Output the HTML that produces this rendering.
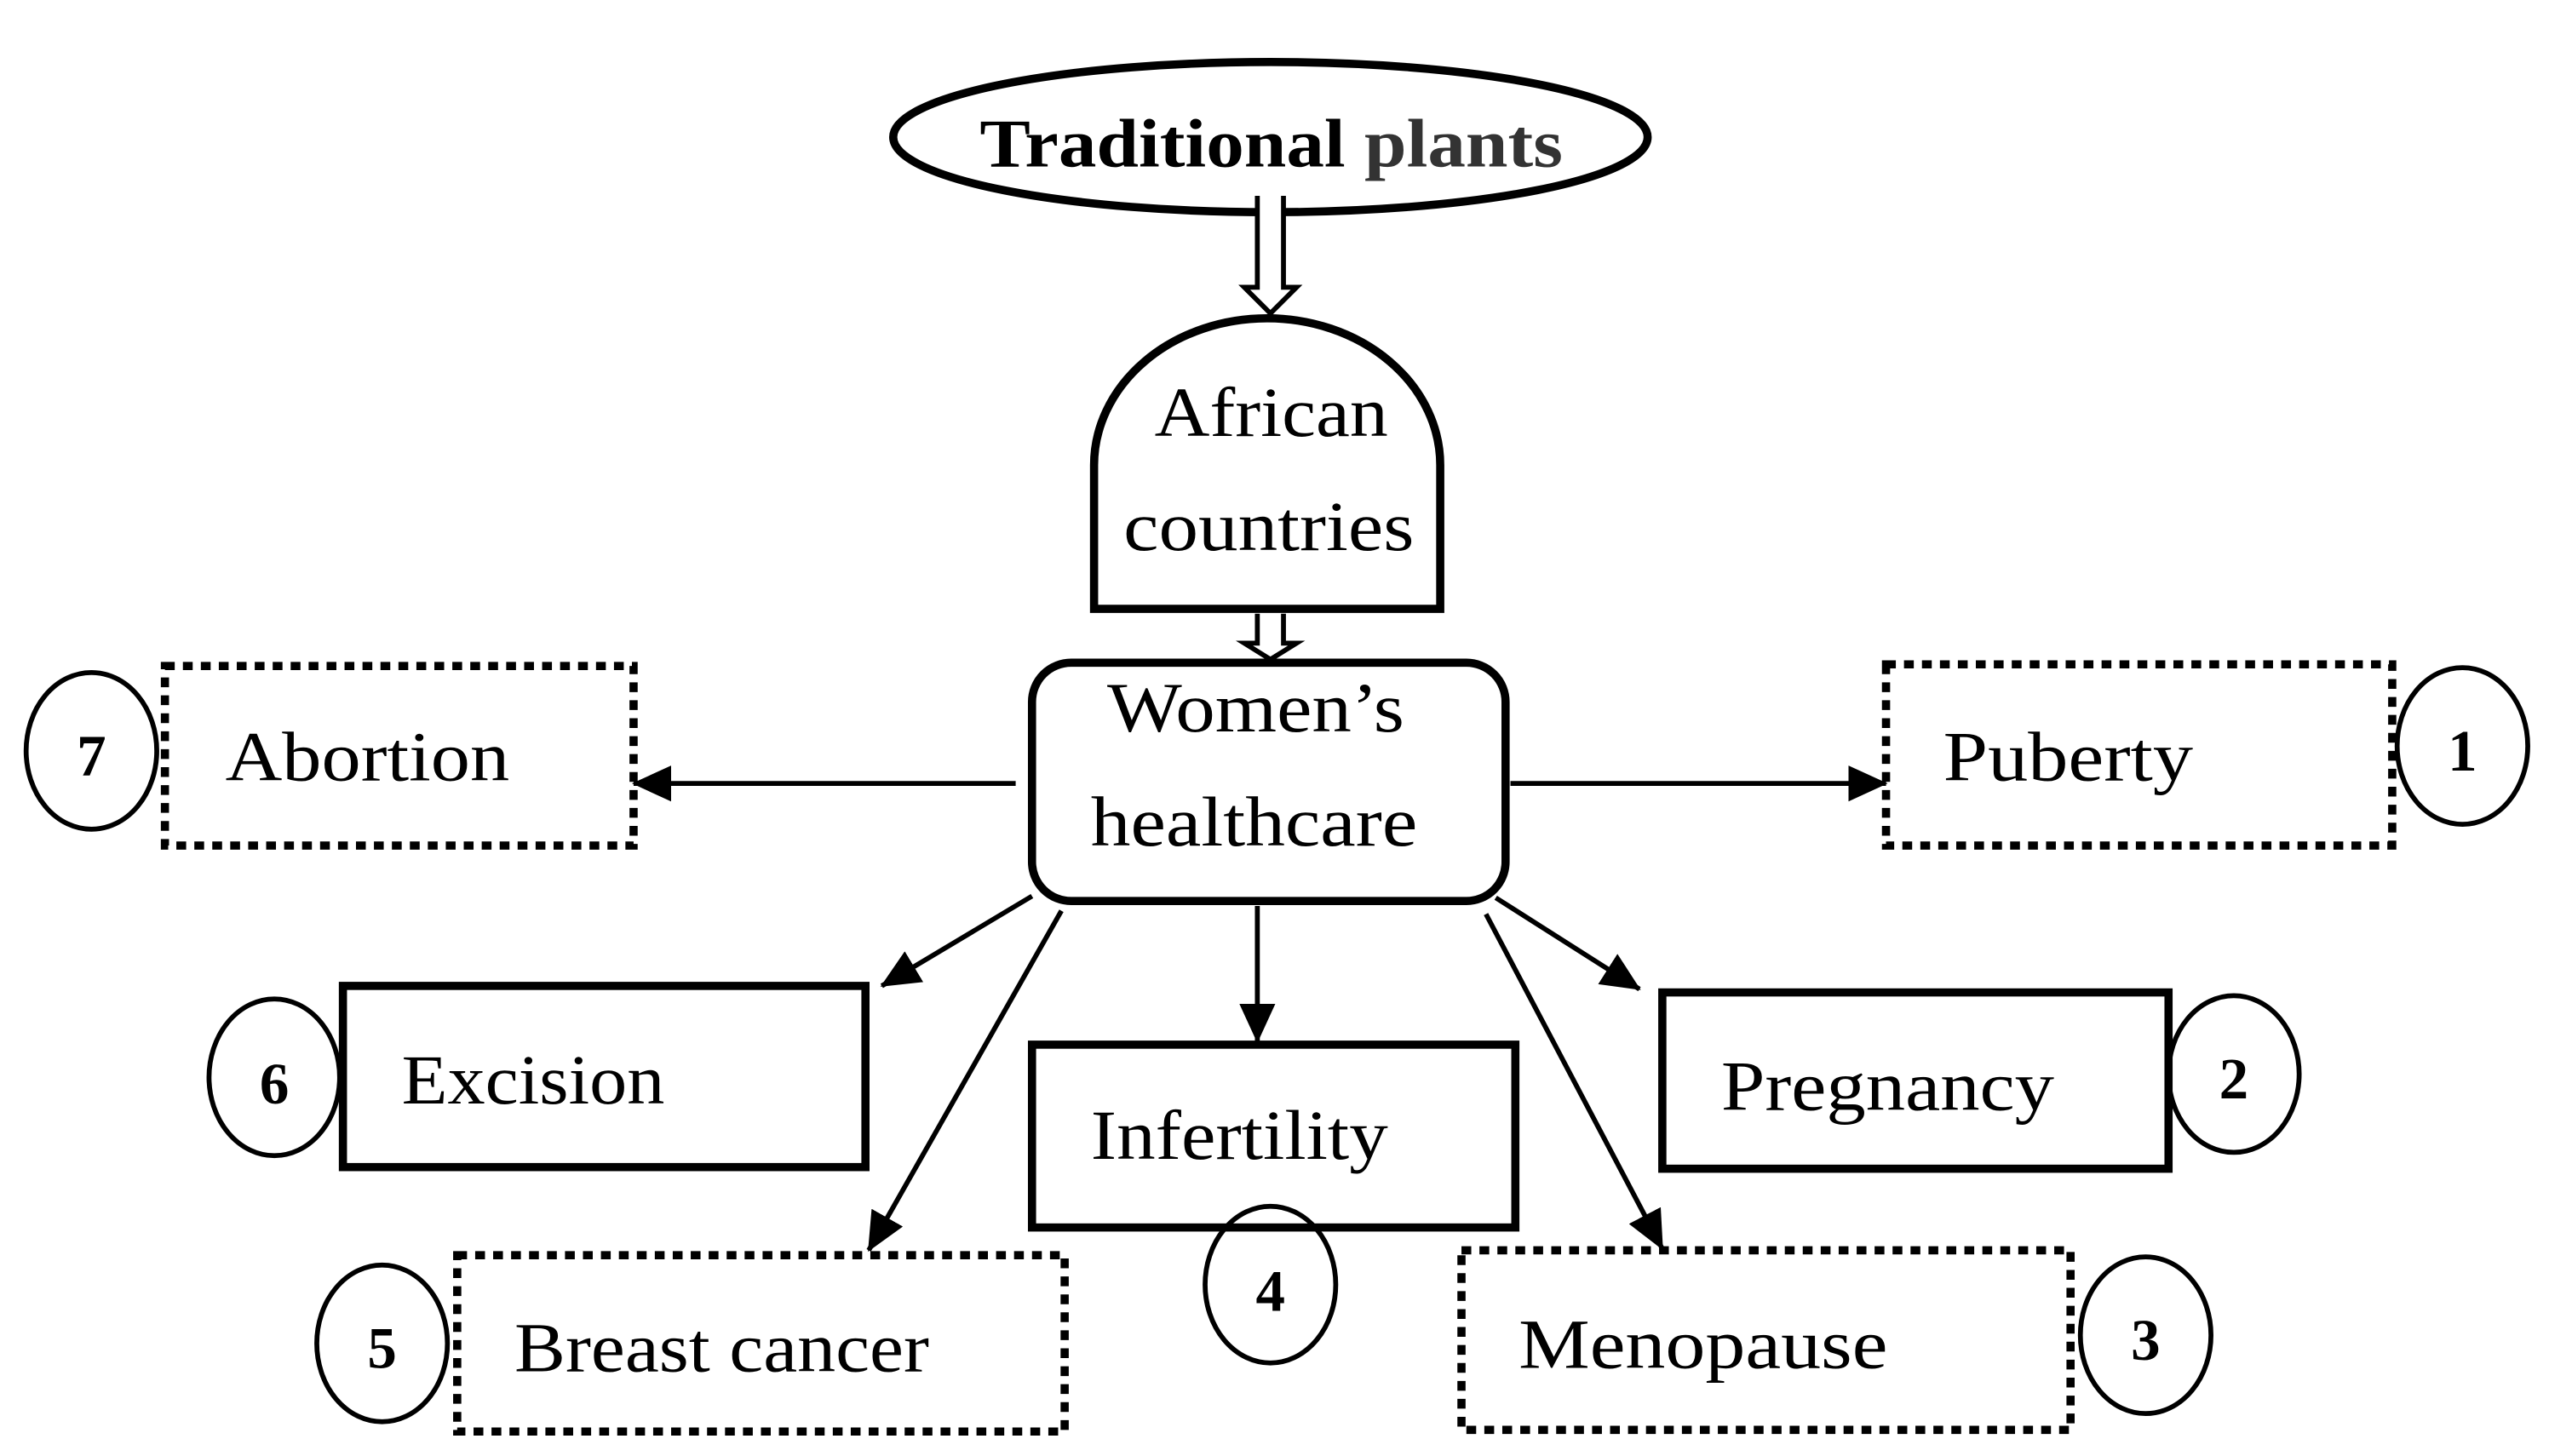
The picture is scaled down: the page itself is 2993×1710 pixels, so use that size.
<!DOCTYPE html>
<html><head><meta charset="utf-8"><style>
html,body{margin:0;padding:0;background:#fff;}
svg{display:block;}
text{font-family:"Liberation Serif",serif;fill:#000;}
.l{font-size:43px;}
.n{font-size:36px;font-weight:bold;}
</style></head><body>
<svg width="2993" height="1710" viewBox="0 0 1561 892" preserveAspectRatio="none" xmlns="http://www.w3.org/2000/svg">
<defs>
<marker id="a" markerWidth="24" markerHeight="22" refX="23" refY="11" orient="auto" markerUnits="userSpaceOnUse" viewBox="0 0 24 22">
<path d="M0,0 L24,11 L0,22 z" fill="#000"/>
</marker>
</defs>
<g fill="none" stroke="#000">
<ellipse cx="778" cy="84" rx="231" ry="46" stroke-width="5"/>
<path d="M770,120 V176 H762 L778,192 L794,176 H786 V120" stroke-width="3" fill="#fff"/>
<path d="M670,373 V285 A106,90 0 0 1 882,285 V373 Z" stroke-width="5" fill="#fff"/>
<path d="M770,376 V394 H762 L778,404 L794,394 H786 V376" stroke-width="3" fill="#fff"/>
<rect x="632" y="406" width="290" height="146" rx="24" stroke-width="5"/>
<rect x="101" y="408" width="287" height="110" stroke-width="5" stroke-dasharray="6,5"/>
<rect x="1155" y="407" width="310" height="111" stroke-width="5" stroke-dasharray="6,5"/>
<rect x="280" y="769" width="372" height="108" stroke-width="5" stroke-dasharray="6,5"/>
<rect x="895" y="766" width="373" height="110" stroke-width="5" stroke-dasharray="6,5"/>
<rect x="210" y="604" width="320" height="111" stroke-width="5"/>
<rect x="632" y="640" width="296" height="112" stroke-width="5"/>
<rect x="1018" y="608" width="310" height="108" stroke-width="5"/>
<ellipse cx="56" cy="460" rx="40" ry="48" stroke-width="3"/>
<ellipse cx="1508" cy="457" rx="40" ry="48" stroke-width="3"/>
<ellipse cx="168" cy="660" rx="40" ry="48" stroke-width="3"/>
<ellipse cx="1368" cy="658" rx="40" ry="48" stroke-width="3"/>
<ellipse cx="778" cy="787" rx="40" ry="48" stroke-width="3"/>
<ellipse cx="234" cy="823" rx="40" ry="48" stroke-width="3"/>
<ellipse cx="1314" cy="818" rx="40" ry="48" stroke-width="3"/>
<g stroke-width="3" marker-end="url(#a)">
<line x1="622" y1="480" x2="388" y2="480"/>
<line x1="925" y1="480" x2="1155" y2="480"/>
<line x1="632" y1="549" x2="540" y2="604"/>
<line x1="770" y1="555" x2="770" y2="638"/>
<line x1="916" y1="550" x2="1004" y2="606"/>
<line x1="650" y1="558" x2="532" y2="766"/>
<line x1="910" y1="560" x2="1018" y2="765"/>
</g>
</g>
<text x="600" y="102" font-size="42" font-weight="bold" textLength="357" lengthAdjust="spacingAndGlyphs">Traditional <tspan fill="#333">plants</tspan></text>
<text class="l" x="707" y="267" textLength="143" lengthAdjust="spacingAndGlyphs">African</text>
<text class="l" x="688" y="337" textLength="178" lengthAdjust="spacingAndGlyphs">countries</text>
<text class="l" x="678" y="448" textLength="182" lengthAdjust="spacingAndGlyphs">Women’s</text>
<text class="l" x="668" y="518" textLength="200" lengthAdjust="spacingAndGlyphs">healthcare</text>
<text class="l" x="138" y="478" textLength="174" lengthAdjust="spacingAndGlyphs">Abortion</text>
<text class="l" x="1190" y="478" textLength="153" lengthAdjust="spacingAndGlyphs">Puberty</text>
<text class="l" x="246" y="676" textLength="161" lengthAdjust="spacingAndGlyphs">Excision</text>
<text class="l" x="668" y="710" textLength="182" lengthAdjust="spacingAndGlyphs">Infertility</text>
<text class="l" x="1054" y="680" textLength="204" lengthAdjust="spacingAndGlyphs">Pregnancy</text>
<text class="l" x="315" y="840" textLength="254" lengthAdjust="spacingAndGlyphs">Breast cancer</text>
<text class="l" x="930" y="838" textLength="226" lengthAdjust="spacingAndGlyphs">Menopause</text>
<text class="n" x="56" y="475" text-anchor="middle">7</text>
<text class="n" x="1508" y="472" text-anchor="middle">1</text>
<text class="n" x="168" y="676" text-anchor="middle">6</text>
<text class="n" x="1368" y="673" text-anchor="middle">2</text>
<text class="n" x="778" y="803" text-anchor="middle">4</text>
<text class="n" x="234" y="838" text-anchor="middle">5</text>
<text class="n" x="1314" y="833" text-anchor="middle">3</text>
</svg>
</body></html>
